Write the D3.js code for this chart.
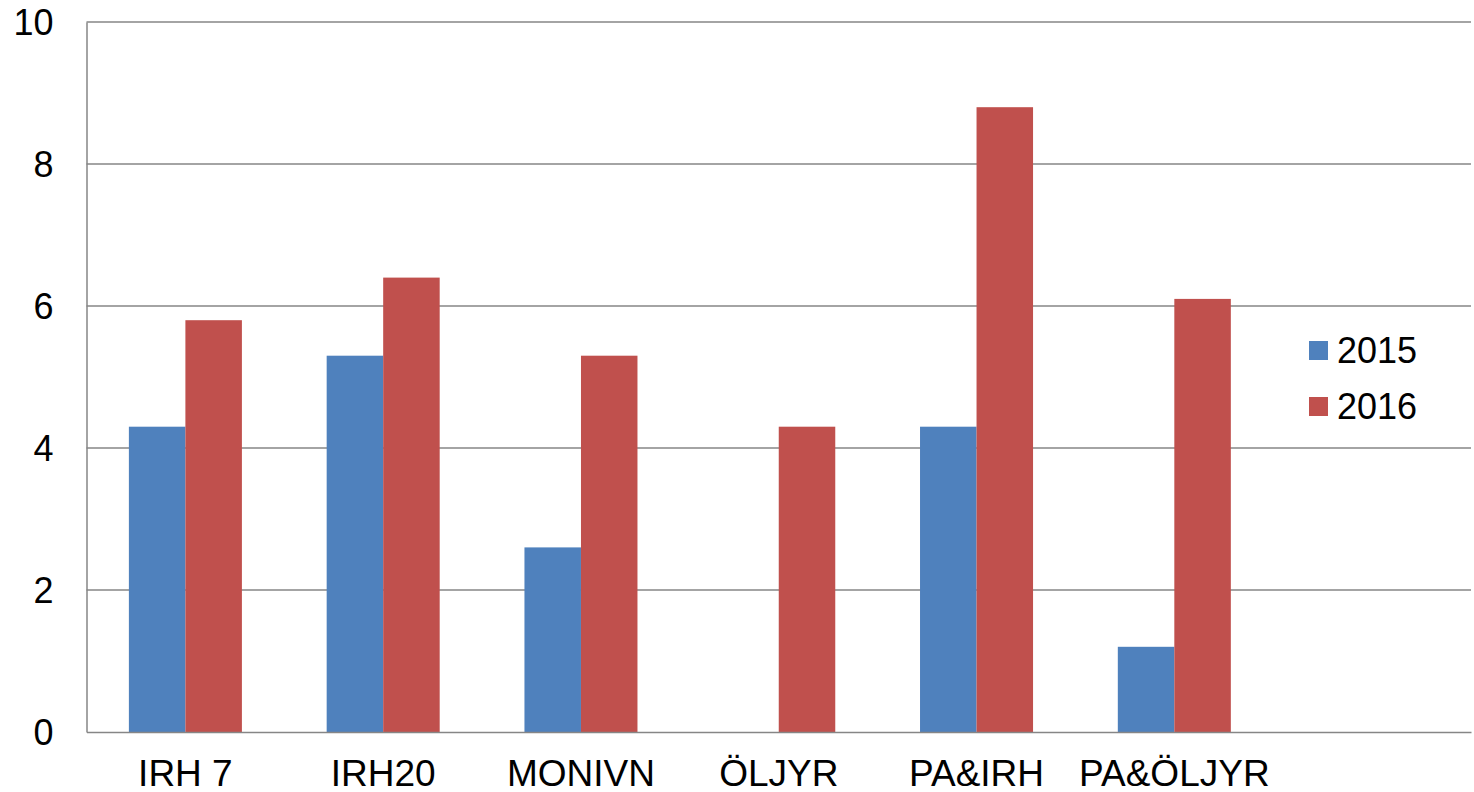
<!DOCTYPE html>
<html>
<head>
<meta charset="utf-8">
<script src="https://cdn.jsdelivr.net/npm/d3@7/dist/d3.min.js"></script>
<style>
  body { margin: 0; background: #fff; }
  text { font-family: "Liberation Sans", Arial, sans-serif; fill: #000; }
</style>
</head>
<body>
<svg id="chart"></svg>
<script>
var categories = ["IRH 7", "IRH20", "MONIVN", "ÖLJYR", "PA&IRH", "PA&ÖLJYR", ""];
var series = ["2015", "2016"];
var values2015 = [4.3, 5.3, 2.6, 0, 4.3, 1.2, null];
var values2016 = [5.8, 6.4, 5.3, 4.3, 8.8, 6.1, null];
var yTicks = [0, 2, 4, 6, 8, 10];
var colors = ["#4F81BD", "#C0504D"];

function drawChart() {
    var svg = d3.select("#chart");
    var width = 1474;
    var height = 792;
    var left = 86.5, right = 1471, top = 22, bottom = 732;

    svg.attr("width", width).attr("height", height);

    var xScale = d3.scaleBand()
                   .domain(categories)
                   .range([left, right])
                   .paddingInner(0)
                   .paddingOuter(0);

    var inner = d3.scaleBand()
                  .domain(series)
                  .range([0, xScale.bandwidth()])
                  .paddingOuter(0.75)
                  .paddingInner(0);

    var yScale = d3.scaleLinear()
                   .domain([0, 10])
                   .range([bottom, top]);

    // grid lines
    svg.append("g").selectAll("line")
       .data(yTicks.slice(1))
       .enter().append("line")
       .attr("x1", left).attr("x2", right)
       .attr("y1", function(d) { return yScale(d); })
       .attr("y2", function(d) { return yScale(d); })
       .attr("stroke", "#868686")
       .attr("stroke-width", 1.5);

    var allSeries = [values2015, values2016];
    allSeries.forEach(function(vals, si) {
        svg.append("g").selectAll("rect")
           .data(vals.map(function(v, i) { return { cat: categories[i], v: v }; })
                     .filter(function(d) { return d.v; }))
           .enter().append("rect")
           .attr("x", function(d) { return xScale(d.cat) + inner(series[si]); })
           .attr("width", inner.bandwidth())
           .attr("y", function(d) { return yScale(d.v); })
           .attr("height", function(d) { return bottom - yScale(d.v); })
           .attr("fill", colors[si]);
    });

    // axes
    var yAxis = d3.axisLeft(yScale).tickValues(yTicks).tickSize(0).tickPadding(33);
    var yg = svg.append("g").attr("transform", "translate(" + left + ",0)").call(yAxis);
    yg.select(".domain").attr("stroke", "#868686").attr("stroke-width", 1.5);
    yg.selectAll("text").style("font-size", "36px").attr("dy", "0.35em")
      .style("font-family", "'Liberation Sans', Arial, sans-serif");

    var xAxis = d3.axisBottom(xScale).tickSize(0).tickPadding(28);
    var xg = svg.append("g").attr("transform", "translate(0," + bottom + ")").call(xAxis);
    xg.select(".domain").attr("stroke", "#868686").attr("stroke-width", 1.5);
    xg.selectAll("text").style("font-size", "37px")
      .style("font-family", "'Liberation Sans', Arial, sans-serif");

    // legend
    var legend = svg.append("g");
    series.forEach(function(s, i) {
        legend.append("rect")
              .attr("x", 1309).attr("y", 341 + i * 56)
              .attr("width", 19).attr("height", 19)
              .attr("fill", colors[i]);
        legend.append("text")
              .attr("x", 1337).attr("y", 363 + i * 56)
              .style("font-size", "36px")
              .text(s);
    });
}

drawChart();
</script>
</body>
</html>
